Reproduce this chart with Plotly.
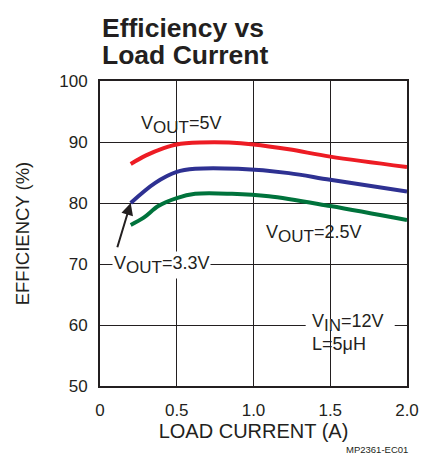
import plotly.graph_objects as go

x_5v = [0.2, 0.3, 0.415, 0.5, 0.65, 0.84, 1.0, 1.23, 1.5, 2.0]
y_5v = [86.4, 87.8, 89.0, 89.6, 89.9, 89.9, 89.6, 88.8, 87.6, 85.9]
x_33v = [0.2, 0.36, 0.5, 0.62, 0.9, 1.23, 1.5, 2.0]
y_33v = [80.0, 83.3, 85.1, 85.6, 85.6, 84.9, 83.8, 81.9]
x_25v = [0.2, 0.285, 0.38, 0.5, 0.62, 0.86, 1.1, 1.5, 2.0]
y_25v = [76.4, 77.6, 79.5, 80.8, 81.5, 81.5, 81.1, 79.5, 77.2]

FONT = "Liberation Sans, Arial, sans-serif"
TXT = "#231f20"

def vlabel(sub, rest):
    return 'V<sub><span style="font-size:17px">' + sub + '</span></sub>' + rest

fig = go.Figure()
fig.add_trace(go.Scatter(x=x_5v, y=y_5v, mode="lines", line=dict(color="#ed1c24", width=4, shape="spline"), showlegend=False))
fig.add_trace(go.Scatter(x=x_33v, y=y_33v, mode="lines", line=dict(color="#2e3192", width=4, shape="spline"), showlegend=False))
fig.add_trace(go.Scatter(x=x_25v, y=y_25v, mode="lines", line=dict(color="#00733c", width=4, shape="spline"), showlegend=False))

fig.update_layout(
    width=421, height=458,
    margin=dict(l=100, r=14, t=81, b=72),
    paper_bgcolor="white", plot_bgcolor="white",
    font=dict(family=FONT, color=TXT, size=17),
    xaxis=dict(range=[0, 2], tickvals=[0, 0.5, 1.0, 1.5, 2.0], ticktext=["0", "0.5", "1.0", "1.5", "2.0"],
               showgrid=True, gridcolor="#231f20", gridwidth=1, showline=True, linecolor="#231f20",
               linewidth=2, mirror=True, zeroline=False, ticks="", ticklabelstandoff=8, automargin=False,
               tickfont=dict(size=17), ticklabeloverflow="allow",
               title=dict(text="LOAD CURRENT (A)", font=dict(size=20), standoff=3)),
    yaxis=dict(range=[50, 100], tickvals=[50, 60, 70, 80, 90, 100],
               showgrid=True, gridcolor="#231f20", gridwidth=1, showline=True, linecolor="#231f20",
               linewidth=2, mirror=True, zeroline=False, ticks="", ticklabelstandoff=7, automargin=False,
               title=dict(text="EFFICIENCY (%)", font=dict(size=18.5), standoff=25)),
)

fig.add_annotation(text="<b>Efficiency vs</b>", xref="paper", yref="paper", x=0, y=1,
                   xanchor="left", yanchor="bottom", yshift=36, showarrow=False, align="left",
                   font=dict(size=26.5, color=TXT, family=FONT))
fig.add_annotation(text="<b>Load Current</b>", xref="paper", yref="paper", x=0, y=1,
                   xanchor="left", yanchor="bottom", yshift=9, showarrow=False, align="left",
                   font=dict(size=26.5, color=TXT, family=FONT))
fig.add_annotation(text=vlabel("OUT", "=5V"), x=0.53, y=92.8, xref="x", yref="y", showarrow=False,
                   font=dict(size=18, color=TXT))
fig.add_annotation(text=vlabel("OUT", "=2.5V"), x=1.39, y=75.0, xref="x", yref="y", showarrow=False,
                   font=dict(size=18, color=TXT))
fig.add_annotation(text=vlabel("OUT", "=3.3V"), x=0.40, y=69.8, xref="x", yref="y", showarrow=False,
                   font=dict(size=18, color=TXT), bgcolor="white")
fig.add_annotation(text="", x=0.2, y=80.0, ax=0.11, ay=72.5, xref="x", yref="y", axref="x", ayref="y",
                   showarrow=True, arrowhead=2, arrowsize=1.2, arrowwidth=2, arrowcolor=TXT, standoff=0)
fig.add_shape(type="rect", x0=1.34, x1=1.92, y0=59.2, y1=61.0, xref="x", yref="y",
              fillcolor="white", line=dict(width=0), layer="above")
fig.add_annotation(text=vlabel("IN", "=12V") + "<br>L=5\u03bcH", x=1.37, y=62.6, xref="x", yref="y",
                   xanchor="left", yanchor="top", align="left", showarrow=False,
                   font=dict(size=18, color=TXT))
fig.add_annotation(text="MP2361-EC01", xref="paper", yref="paper", x=1.0, y=0, yshift=-71, xshift=3,
                   xanchor="right", yanchor="bottom", showarrow=False, font=dict(size=9.5, color=TXT))

fig.write_html("out.html", config={"displayModeBar": False},
               post_script="document.body.style.margin='0px';document.body.style.overflow='hidden';")
